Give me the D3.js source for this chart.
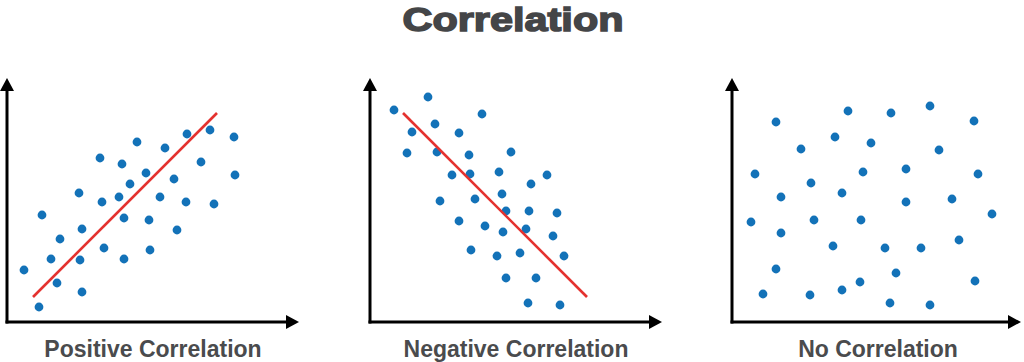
<!DOCTYPE html>
<html><head><meta charset="utf-8">
<script src="https://cdn.jsdelivr.net/npm/d3@7/dist/d3.min.js"></script>
<style>html,body{margin:0;padding:0;background:#fff;}svg{display:block;}</style>
</head><body>
<script>
// Data: values (units relative to each panel's origin)
const title = "Correlation";
const panelTitles = ["Positive Correlation", "Negative Correlation", "No Correlation"];

const positiveX = [17,32,35,44,50,53,72,75,73,75,93,95,97,115,112,117,117,123,130,139,142,143,153,158,167,170,179,180,194,203,207,227,228];
const positiveY = [52,15,107,63,39,83,129,93,62,30,164,120,74,158,125,104,63,138,180,149,102,72,125,174,143,92,120,188,160,192,118,185,147];
const positiveTrendX = [26, 210];
const positiveTrendY = [25, 209];

const negativeX = [24,58,42,37,65,67,89,112,99,82,100,141,129,177,161,70,105,132,136,159,187,89,115,133,156,183,101,127,150,194,136,166,158,190];
const negativeY = [212,225,190,169,198,170,189,208,167,147,148,170,150,147,138,121,123,128,111,111,109,101,96,90,93,86,72,66,69,66,44,44,19,17];
const negativeTrendX = [33, 217];
const negativeTrendY = [209, 25];

const noneX = [44,116,159,198,242,103,139,69,207,23,131,174,246,79,49,110,174,220,260,19,82,129,49,101,153,189,227,44,164,128,243,31,78,110,158,198];
const noneY = [200,211,209,216,201,185,179,173,172,148,150,153,148,139,125,129,120,123,108,100,102,102,89,76,74,74,82,53,49,40,41,28,27,32,19,17];

const panels = [
  {name: panelTitles[0], xs: positiveX, ys: positiveY, tx: positiveTrendX, ty: positiveTrendY, ox: 7, len: 292},
  {name: panelTitles[1], xs: negativeX, ys: negativeY, tx: negativeTrendX, ty: negativeTrendY, ox: 370, len: 292},
  {name: panelTitles[2], xs: noneX, ys: noneY, tx: null, ty: null, ox: 732, len: 289}
];

const W = 1024, H = 362;
const svg = d3.select("body").append("svg").attr("width", W).attr("height", H);

svg.append("text").text(title)
  .attr("x", 513).attr("y", 31)
  .attr("text-anchor", "middle")
  .attr("font-family", "Liberation Sans, Arial, sans-serif")
  .attr("font-weight", "bold").attr("font-size", 34)
  .attr("fill", "#444547").attr("stroke", "#444547").attr("stroke-width", 1.5)
  .attr("textLength", 221).attr("lengthAdjust", "spacingAndGlyphs");

const originY = 322, yLen = 244;
const blue = "#1372b8", red = "#e4322f";

panels.forEach(p => {
  const x = d3.scaleLinear().domain([0, p.len]).range([p.ox, p.ox + p.len]);
  const y = d3.scaleLinear().domain([0, yLen]).range([originY, originY - yLen]);
  const g = svg.append("g");

  // axes
  g.append("line").attr("x1", x(0)).attr("y1", y(0) + 1.5).attr("x2", x(0)).attr("y2", y(yLen) + 10)
    .attr("stroke", "#000").attr("stroke-width", 3);
  g.append("line").attr("x1", x(0) - 1.5).attr("y1", y(0)).attr("x2", x(p.len) - 10).attr("y2", y(0))
    .attr("stroke", "#000").attr("stroke-width", 3);
  // arrow heads
  const tx = x(0), ty = y(yLen);
  g.append("path").attr("d", `M${tx},${ty} L${tx - 7},${ty + 13} L${tx + 7},${ty + 13} Z`).attr("fill", "#000");
  const rx = x(p.len), ry = y(0);
  g.append("path").attr("d", `M${rx},${ry} L${rx - 13},${ry - 7} L${rx - 13},${ry + 7} Z`).attr("fill", "#000");

  // points
  const pts = p.xs.map((v, i) => [v, p.ys[i]]);
  g.selectAll("circle").data(pts).join("circle")
    .attr("cx", d => x(d[0])).attr("cy", d => y(d[1])).attr("r", 4.4).attr("fill", blue);

  // trend line
  if (p.tx) {
    g.append("line")
      .attr("x1", x(p.tx[0])).attr("y1", y(p.ty[0]))
      .attr("x2", x(p.tx[1])).attr("y2", y(p.ty[1]))
      .attr("stroke", red).attr("stroke-width", 2.6);
  }

  // label
  g.append("text").text(p.name)
    .attr("x", p.ox + 146).attr("y", 357)
    .attr("text-anchor", "middle")
    .attr("font-family", "Liberation Sans, Arial, sans-serif")
    .attr("font-weight", "bold").attr("font-size", 23)
    .attr("fill", "#4a4b4d");
});
</script>
</body></html>
